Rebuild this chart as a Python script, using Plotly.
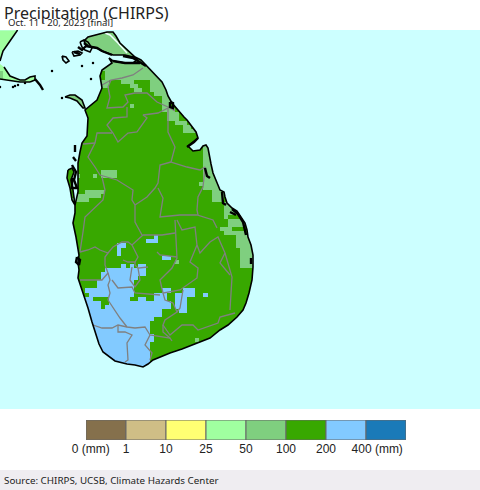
import plotly.graph_objects as go

# map units are the pixel grid of the original map, y grows southward
class_labels = ["0-1", "1-10", "10-25", "25-50", "50-100", "100-200", "200-400", "400+"]
class_colors = ["#85704C", "#CFBE86", "#FFFF73", "#A0FFA0", "#7FCF7F", "#38A800", "#82CAFF", "#1A7AB8"]
tick_positions = [0.12, 1, 2, 3, 4, 5, 6, 7.28]
tick_labels = ["0 (mm)", "1", "10", "25", "50", "100", "200", "400 (mm)"]

rain_25_50 = [(-5, 45, 20, 95)]
rain_50_100 = [
    (-5, 4, 71, 78), (60, 86, 90, 112),
    (86, 105, 25, 70), (105, 175, 25, 78), (100, 110, 78, 86),
    (122, 135, 78, 82), (130, 139, 82, 86), (135, 143, 86, 90),
    (152, 170, 78, 91), (156, 170, 91, 95), (161, 170, 95, 107),
    (131, 135, 104, 108), (162, 175, 107, 112), (168, 180, 112, 120),
    (173, 187, 120, 125), (182, 193, 125, 130), (183, 200, 130, 134),
    (205, 225, 145, 190), (199, 204, 181, 185), (212, 225, 190, 202),
    (222, 240, 202, 215), (225, 229, 215, 219), (230, 245, 219, 228),
    (221, 233, 228, 232), (225, 233, 232, 236), (233, 245, 232, 237),
    (238, 256, 237, 248), (242, 256, 248, 270),
    (101, 118, 168, 177), (92, 97, 172, 177), (76, 80, 172, 180),
    (83, 105, 189, 193), (75, 100, 193, 197), (73, 88, 197, 202),
    (174, 178, 262, 266), (195, 199, 339, 343),
]
rain_200_400 = [
    (118, 127, 245, 249), (118, 122, 249, 254), (118, 127, 258, 262),
    (148, 160, 241, 245), (156, 160, 237, 241),
    (161, 169, 254, 258), (161, 165, 258, 262),
    (122, 127, 266, 270), (131, 135, 266, 270), (139, 148, 266, 275),
    (106, 139, 270, 274), (102, 139, 274, 279), (97, 135, 279, 288),
    (84, 135, 288, 296), (70, 131, 296, 300), (139, 144, 296, 300),
    (156, 165, 292, 300), (161, 169, 288, 292),
    (70, 169, 300, 310), (70, 164, 310, 317), (70, 156, 317, 322),
    (70, 152, 322, 335), (70, 156, 335, 343), (70, 152, 343, 375),
    (174, 185, 292, 308), (182, 195, 288, 296), (204, 208, 292, 296),
    (178, 185, 308, 313),
]
rain_100_200 = [(92, 109, 296, 300), (101, 109, 300, 304), (101, 105, 304, 308), (83, 88, 292, 297)]

# land outlines
main_coast = [
    (86, 46), (84, 41), (88, 37), (98, 34), (107, 32), (113, 32), (116, 36), (120, 43),
    (125, 48), (130, 53), (135, 57), (141, 60), (146, 65), (152, 71), (157, 76), (162, 82),
    (166, 90), (168, 96), (172, 103), (176, 108), (180, 112), (184, 117), (187, 120),
    (192, 127), (196, 132), (198, 138), (193, 142), (188, 146), (193, 151), (200, 150),
    (203, 146), (206, 145), (208, 148), (209, 155), (211, 164), (213, 173), (215, 178),
    (217, 184), (220, 190), (224, 192), (225, 197), (227, 203), (232, 208), (237, 211),
    (241, 217), (245, 223), (247, 230), (248, 237), (251, 245), (253, 255), (253, 267),
    (252, 280), (249, 293), (246, 303), (243, 310), (237, 317), (228, 325), (220, 330),
    (210, 338), (200, 342), (193, 345), (182, 349), (170, 353), (160, 357), (153, 360),
    (148, 364), (143, 367), (135, 365), (127, 364), (115, 361), (108, 356), (103, 352),
    (99, 344), (97, 338), (92, 322), (88, 308), (85, 298), (81, 287), (78, 278), (79, 270),
    (78, 262), (79, 255), (76, 237), (73, 223), (75, 213), (75, 205), (78, 192), (78, 175),
    (78, 163), (80, 152), (82, 143), (87, 136), (88, 125), (88, 118), (85, 110), (90, 106),
    (97, 100), (102, 88), (100, 76), (102, 70), (110, 65), (112, 63), (109, 58), (113, 61),
    (125, 63), (133, 63), (137, 60), (133, 57), (125, 55), (113, 55), (102, 51), (97, 48),
]
kalpitiya = [(68, 170), (72, 168), (74, 172), (71, 180), (73, 190), (75, 205), (72, 200), (70, 188), (67, 178)]
mannar = [(65, 97), (70, 95), (75, 95), (82, 100), (85, 108), (83, 108), (77, 101), (70, 98)]
india_north = [(-5, 25), (19, 25), (17, 31), (10, 41), (3, 51), (0, 61), (-5, 62)]
rameswaram = [(-5, 60), (4, 67), (10, 76), (20, 80), (25, 80), (30, 77), (35, 76), (35, 80), (30, 82), (20, 82), (-5, 79)]
jaffna_islands = [(80, 42), (84, 40), (88, 42), (92, 48), (90, 52), (85, 50), (82, 47)]
kayts_island = [(72, 52), (78, 51), (82, 53), (80, 55), (74, 56)]
delft_island = [(62, 56), (66, 57), (69, 61), (66, 63), (63, 60)]
land_holes = [main_coast, kalpitiya, mannar, india_north, rameswaram]
outlines = [main_coast + main_coast[:1], kalpitiya + kalpitiya[:1], mannar + mannar[:1],
            india_north[1:-1], rameswaram[1:9], rameswaram[8:10] + [(0, 79)],
            jaffna_islands + jaffna_islands[:1], kayts_island + kayts_island[:1],
            delft_island + delft_island[:1]]
lagoon_edges = [
    [(35, 79), (40, 85), (43, 90)],
    [(123, 56), (133, 58), (146, 66)], [(113, 61), (125, 63), (140, 63)],
    [(86, 46), (97, 48), (102, 51), (112, 55)], [(78, 47), (82, 50), (86, 46)],
    [(74, 52), (80, 54)], [(84, 43), (88, 46)],
    [(170, 102), (173, 103), (173, 108), (170, 107), (170, 102)],
    [(205, 168), (207, 176), (210, 178)], [(222, 192), (223, 203), (226, 205)],
    [(232, 209), (238, 214), (243, 222), (246, 235)], [(230, 212), (236, 215)],
    [(72, 165), (76, 172), (74, 180), (77, 188), (72, 188), (72, 178)],
    [(75, 145), (75, 152)], [(73, 157), (76, 161)],
    [(187, 147), (194, 142), (198, 138)],
    [(77, 257), (80, 260), (79, 265), (76, 262), (77, 257)],
    [(251, 258), (251, 264)],
]
spots_x = [52, 93, 82, 91, 62, 0, 13, 15, 18, 25]
spots_y = [71, 63, 66, 79, 98, 87, 87, 86, 85, 83]
peninsula_lagoon = [(105, 33), (110, 35), (118, 43), (127, 53)]

boundaries = [
    [(102, 85), (111, 80), (122, 78), (133, 75), (143, 68)],
    [(111, 80), (108, 87), (110, 97), (107, 108), (123, 107), (128, 102), (125, 95), (135, 93), (147, 93), (157, 102), (168, 107), (175, 111)],
    [(127, 107), (127, 117), (113, 118), (107, 125), (113, 133), (118, 142), (128, 133), (137, 132), (147, 118), (143, 115), (158, 113), (168, 108)],
    [(168, 108), (168, 120), (168, 132), (175, 147), (171, 162), (187, 167), (200, 170), (205, 167), (203, 187), (198, 197), (197, 210), (198, 215)],
    [(112, 133), (97, 133), (95, 143), (88, 157), (95, 167), (100, 175), (117, 180), (125, 185), (133, 190), (132, 200), (135, 205), (135, 222), (138, 228), (142, 235)],
    [(83, 144), (95, 143)],
    [(171, 162), (160, 165), (158, 183), (155, 188), (147, 197), (135, 205)],
    [(158, 188), (163, 198), (160, 217), (180, 215), (197, 215), (213, 220), (217, 228)],
    [(102, 177), (105, 190), (103, 200), (93, 210), (85, 217), (83, 232), (80, 252)],
    [(80, 252), (88, 250), (95, 247), (100, 250), (108, 253), (113, 247), (122, 242), (128, 242), (132, 245), (140, 238), (143, 235), (162, 235), (175, 233)],
    [(132, 245), (138, 257), (135, 262), (128, 262), (123, 260)],
    [(108, 253), (105, 257), (105, 265), (108, 273), (102, 280), (93, 280), (80, 280)],
    [(108, 273), (110, 280), (108, 285), (110, 293), (108, 300), (120, 318), (127, 327)],
    [(112, 280), (118, 288), (132, 287), (135, 293), (160, 295)],
    [(132, 267), (130, 280), (135, 287), (140, 280), (138, 268), (148, 267)],
    [(135, 262), (135, 265), (138, 268)],
    [(175, 220), (177, 258), (172, 268), (160, 280), (163, 293)],
    [(177, 220), (182, 230), (195, 227), (197, 245), (200, 253), (210, 242), (218, 237), (225, 253), (232, 277), (230, 310)],
    [(225, 253), (220, 263), (230, 275)],
    [(157, 252), (160, 255), (177, 257)],
    [(197, 245), (190, 262), (198, 268), (197, 278), (180, 290), (163, 293), (165, 300), (173, 303), (177, 312), (165, 320), (163, 325), (170, 335), (182, 325), (193, 325), (198, 330), (218, 323), (220, 317), (235, 313)],
    [(183, 290), (180, 308), (177, 312)],
    [(93, 325), (102, 328), (112, 328), (118, 325), (127, 327), (135, 328), (145, 327), (150, 335), (170, 338), (172, 341)],
    [(118, 325), (118, 332), (125, 332), (132, 335), (127, 343), (128, 360), (125, 362)],
    [(150, 335), (145, 345), (152, 353), (150, 360)],
    [(163, 325), (163, 332), (170, 338)],
]

cell = 4.1
grid_x0 = -1.6
grid_y0 = 30.4
n_cols = 118
n_rows = 93
x_edges = [grid_x0 + i * cell for i in range(n_cols + 1)]
y_edges = [grid_y0 + i * cell for i in range(n_rows + 1)]
z = [[5] * n_cols for _ in range(n_rows)]
for value, areas in [(3, rain_25_50), (4, rain_50_100), (6, rain_200_400), (5, rain_100_200)]:
    for x0, x1, y0, y1 in areas:
        for r in range(n_rows):
            for c in range(n_cols):
                if x0 <= x_edges[c] + cell / 2 < x1 and y0 <= y_edges[r] + cell / 2 < y1:
                    z[r][c] = value

def area(pts):
    return sum(a[0] * b[1] - b[0] * a[1] for a, b in zip(pts, pts[1:] + pts[:1]))

def join(lines):
    xs, ys = [], []
    for line in lines:
        xs += [p[0] for p in line] + [None]
        ys += [p[1] for p in line] + [None]
    return xs, ys

ocean_box = [(-20, 10), (500, 10), (500, 420), (-20, 420)]
holes = [h if area(h) < 0 else h[::-1] for h in land_holes]
mask_x, mask_y = join([ocean_box + ocean_box[:1]] + [h + h[:1] for h in holes])

colorscale = []
for i, color in enumerate(class_colors):
    colorscale += [[i / 8, color], [(i + 1) / 8, color]]

fig = go.Figure()
fig.add_trace(go.Heatmap(x=x_edges, y=y_edges, z=z, colorscale=colorscale, zmin=-0.5, zmax=7.5,
                         showscale=False, hoverinfo="skip"))
fig.add_trace(go.Scatter(x=mask_x, y=mask_y, mode="lines", fill="toself", fillcolor="#CCFFFF",
                         line=dict(width=0), hoverinfo="skip"))
bx, by = join(boundaries)
fig.add_trace(go.Scatter(x=bx, y=by, mode="lines", line=dict(color="#808080", width=1.3), hoverinfo="skip"))
lx, ly = join([peninsula_lagoon])
fig.add_trace(go.Scatter(x=lx, y=ly, mode="lines", line=dict(color="#F0FFFF", width=1.5), hoverinfo="skip"))
ox, oy = join(outlines)
fig.add_trace(go.Scatter(x=ox, y=oy, mode="lines", line=dict(color="black", width=1.6), hoverinfo="skip"))
gx, gy = join(lagoon_edges)
fig.add_trace(go.Scatter(x=gx, y=gy, mode="lines", line=dict(color="black", width=2.4), hoverinfo="skip"))
fig.add_trace(go.Scatter(x=spots_x, y=spots_y, mode="markers", marker=dict(color="black", size=2.5), hoverinfo="skip"))

# colour key
fig.add_trace(go.Bar(x=[i + 0.5 for i in range(8)], y=[1] * 8, width=1, xaxis="x2", yaxis="y2",
                     customdata=class_labels, marker=dict(color=class_colors, line=dict(color="#666666", width=1))))

fig.update_layout(
    width=480, height=490, showlegend=False, margin=dict(l=0, r=0, t=0, b=0, autoexpand=False),
    paper_bgcolor="white", plot_bgcolor="#CCFFFF",
    xaxis=dict(domain=[0, 1], range=[0, 480], visible=False),
    yaxis=dict(domain=[81 / 490, 460 / 490], range=[409, 30], visible=False),
    xaxis2=dict(domain=[86 / 480, 406 / 480], range=[0, 8], anchor="y2", showgrid=False, zeroline=False,
                tickmode="array", tickvals=tick_positions, ticktext=tick_labels, ticks="", showline=False,
                tickfont=dict(family="Liberation Sans", size=12, color="#222222")),
    yaxis2=dict(domain=[50 / 490, 70 / 490], range=[0, 1], anchor="x2", visible=False),
    shapes=[dict(type="rect", xref="paper", yref="paper", x0=0, x1=1, y0=0, y1=20 / 490,
                 fillcolor="#EFEDF1", line=dict(width=0), layer="below")],
    annotations=[
        dict(text="Precipitation (CHIRPS)", xref="paper", yref="paper", x=2 / 480, y=1, xanchor="left", yanchor="top",
             showarrow=False, font=dict(family="Noto Sans", size=16, color="#222222")),
        dict(text="Oct. 11 - 20, 2023 [final]", xref="paper", yref="paper", x=6 / 480, y=476 / 490, xanchor="left", yanchor="top",
             showarrow=False, font=dict(family="Noto Sans", size=9.5, color="#222222")),
        dict(text="Source: CHIRPS, UCSB, Climate Hazards Center", xref="paper", yref="paper", x=2 / 480, y=10 / 490,
             xanchor="left", yanchor="middle", showarrow=False, font=dict(family="Noto Sans", size=9.8, color="#222222")),
    ],
)
fig.write_html("out.html", config=dict(displayModeBar=False), post_script="document.body.style.margin='0';")
